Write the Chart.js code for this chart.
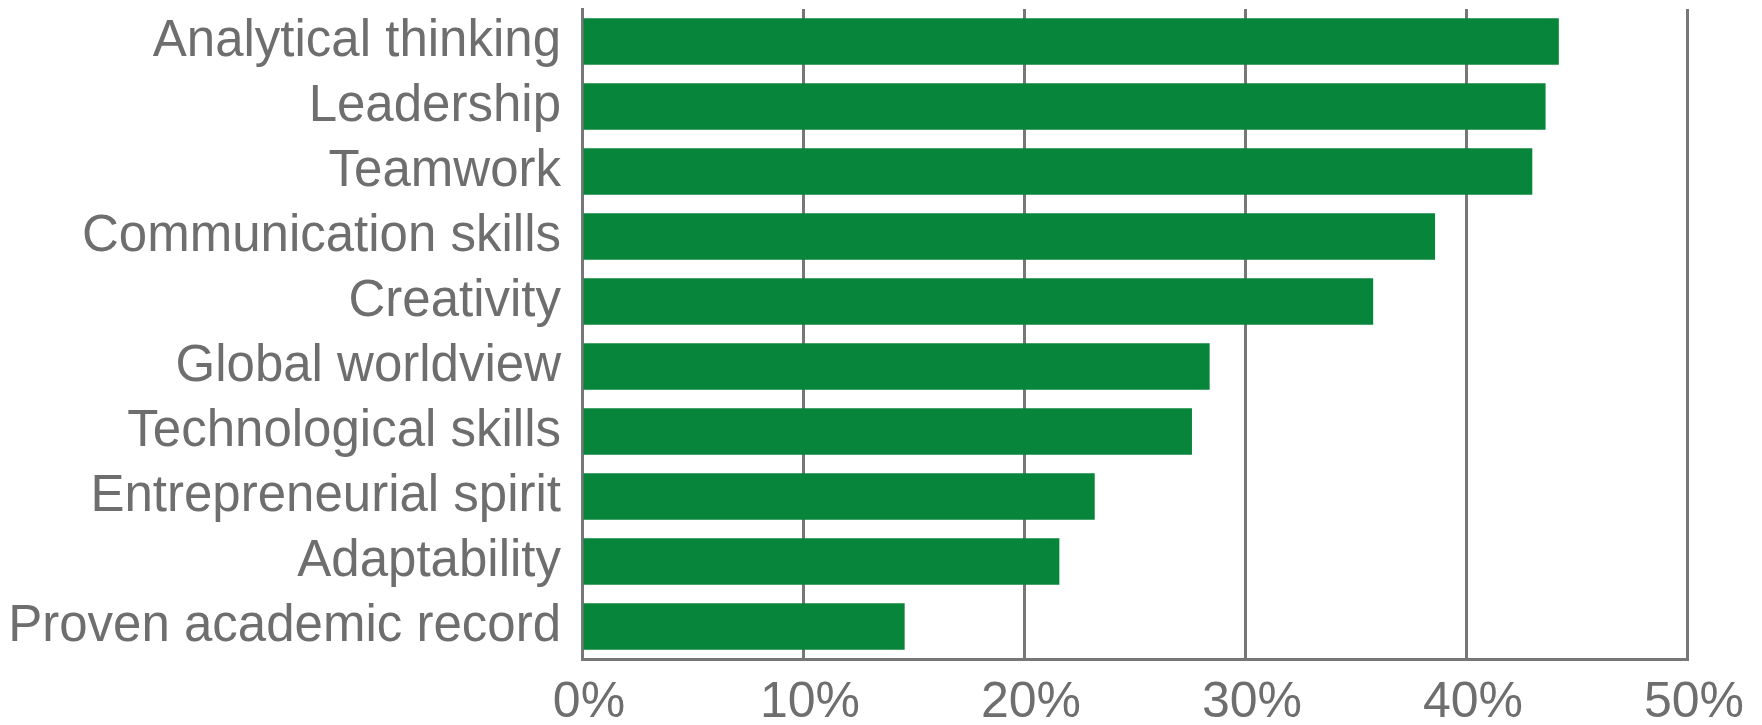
<!DOCTYPE html>
<html>
<head>
<meta charset="utf-8">
<script src="https://cdn.jsdelivr.net/npm/chart.js@4/dist/chart.umd.min.js"></script>
<style>
  html, body { margin: 0; padding: 0; background: #ffffff; }
  canvas { display: block; }
</style>
</head>
<body>
<canvas id="skills_chart" width="1762" height="725"></canvas>
<script>
const skills = [
  'Analytical thinking',
  'Leadership',
  'Teamwork',
  'Communication skills',
  'Creativity',
  'Global worldview',
  'Technological skills',
  'Entrepreneurial spirit',
  'Adaptability',
  'Proven academic record'
];

const shares = [44.2, 43.6, 43.0, 38.6, 35.8, 28.4, 27.6, 23.2, 21.6, 14.6];

const xTicks = [0, 10, 20, 30, 40, 50];

const green = '#07853a';
const axisGrey = '#777777';
const textGrey = '#6e6e6e';

const ctx = document.getElementById('skills_chart');
const skillsChart = new Chart(ctx, {
  type: 'bar',
  data: {
    labels: skills,
    datasets: [{
      data: shares,
      backgroundColor: green,
      borderWidth: 0,
      barPercentage: 0.714,
      categoryPercentage: 1.0
    }]
  },
  options: {
    indexAxis: 'y',
    responsive: false,
    animation: false,
    devicePixelRatio: 1,
    layout: { padding: { top: 9, right: 75, left: 0, bottom: 0 } },
    plugins: {
      legend: { display: false },
      tooltip: { enabled: false }
    },
    scales: {
      x: {
        min: 0,
        max: 50,
        afterBuildTicks: (axis) => {
          axis.ticks = xTicks.map(v => ({ value: v }));
        },
        afterFit: (axis) => { axis.height = 66; },
        grid: {
          color: axisGrey,
          lineWidth: 3,
          drawTicks: false
        },
        border: { display: true, color: axisGrey, width: 3 },
        ticks: {
          color: textGrey,
          font: { family: 'Liberation Sans', size: 50 },
          padding: 14,
          labelOffset: 7,
          maxRotation: 0,
          callback: (v) => v + '%'
        }
      },
      y: {
        afterFit: (axis) => {
          axis.width = 582;
          axis.paddingTop = 0;
          axis.paddingBottom = 0;
        },
        grid: { display: false, drawTicks: false },
        border: { display: true, color: axisGrey, width: 3 },
        ticks: {
          color: textGrey,
          font: { family: 'Liberation Sans', size: 51 },
          padding: 21,
          autoSkip: false
        }
      }
    }
  }
});
</script>
</body>
</html>
